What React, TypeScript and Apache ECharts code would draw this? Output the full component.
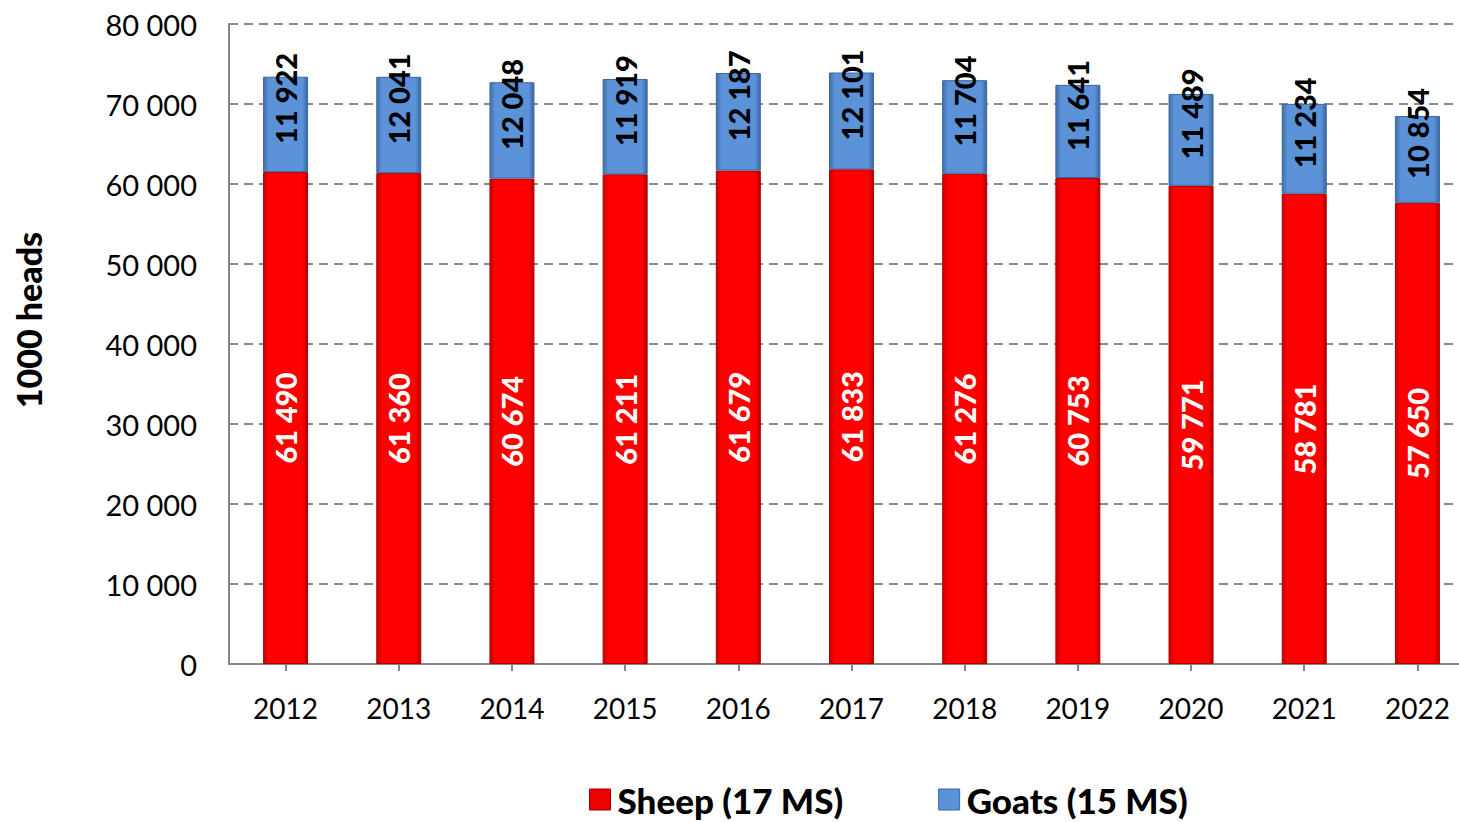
import React, { useEffect, useRef } from "react";
import * as echarts from "echarts";

const years = ["2012", "2013", "2014", "2015", "2016", "2017", "2018", "2019", "2020", "2021", "2022"];
const sheep = [61490, 61360, 60674, 61211, 61679, 61833, 61276, 60753, 59771, 58781, 57650];
const goats = [11922, 12041, 12048, 11919, 12187, 12101, 11704, 11641, 11489, 11234, 10854];
const sheepName = "Sheep (17 MS)";
const goatsName = "Goats (15 MS)";
const yTitle = "1000 heads";

const fmt = (v: number) => {
  const s = String(Math.round(v));
  return s.replace(/\B(?=(\d{3})+(?!\d))/g, " ");
};

const FONT = "Lato, 'Open Sans', sans-serif";

export default function App() {
  const ref = useRef<HTMLDivElement>(null);
  useEffect(() => {
    if (!ref.current) return;
    const chart = echarts.init(ref.current, undefined, { renderer: "svg" });
    const redGrad = new echarts.graphic.LinearGradient(0, 0, 1, 0, [
      { offset: 0, color: "#c40000" },
      { offset: 0.12, color: "#ff0000" },
      { offset: 0.88, color: "#ff0000" },
      { offset: 1, color: "#b80000" },
    ]);
    const blueGrad = new echarts.graphic.LinearGradient(0, 0, 1, 0, [
      { offset: 0, color: "#3f6fa8" },
      { offset: 0.12, color: "#5b92d8" },
      { offset: 0.88, color: "#5b92d8" },
      { offset: 1, color: "#3a67a0" },
    ]);
    chart.setOption({
      animation: false,
      textStyle: { fontFamily: FONT },
      grid: { left: 229, top: 24, width: 1245, height: 640, outerBoundsMode: "none", containLabel: false },
      graphic: [
        {
          type: "text",
          x: 28,
          y: 320,
          rotation: Math.PI / 2,
          style: {
            text: yTitle,
            fontSize: 34,
            fontWeight: 900,
            fontFamily: FONT,
            fill: "#000",
            align: "center",
            verticalAlign: "middle",
          },
        },
      ],
      legend: {
        bottom: 0,
        left: 584,
        itemGap: 95,
        itemWidth: 21,
        itemHeight: 21,
        icon: "rect",
        textStyle: { fontSize: 35, fontWeight: 900, color: "#000", fontFamily: FONT, padding: [0, 0, 0, 2] },
        data: [
          { name: sheepName, itemStyle: { color: "#ee0000", borderColor: "#a00000", borderWidth: 1 } },
          { name: goatsName, itemStyle: { color: "#5b92d8", borderColor: "#3a67a0", borderWidth: 1 } },
        ],
      },
      xAxis: {
        type: "category",
        data: years,
        axisLine: { lineStyle: { color: "#868686", width: 2 } },
        axisTick: { show: true, alignWithLabel: true, length: 7, lineStyle: { color: "#868686", width: 2 } },
        axisLabel: { fontSize: 28, color: "#000", margin: 30, fontFamily: FONT },
      },
      yAxis: {
        type: "value",
        min: 0,
        max: 80000,
        interval: 10000,
        axisLine: { show: true, lineStyle: { color: "#868686", width: 2 } },
        axisTick: { show: false },
        axisLabel: { fontSize: 29, color: "#000", margin: 32, formatter: (v: number) => fmt(v), fontFamily: FONT },
        splitLine: { lineStyle: { color: "#8a8a8a", width: 2, type: [9, 6] } },
      },
      series: [
        {
          name: sheepName,
          type: "bar",
          stack: "total",
          barWidth: 45,
          data: sheep,
          itemStyle: { color: redGrad, borderColor: "#b00000", borderWidth: 1 },
          label: {
            show: true,
            position: "inside",
            rotate: 90,
            color: "#fff",
            fontSize: 29,
            fontWeight: 900,
            fontFamily: FONT,
            formatter: (p: any) => fmt(p.value),
          },
        },
        {
          name: goatsName,
          type: "bar",
          stack: "total",
          barWidth: 45,
          data: goats,
          itemStyle: { color: blueGrad, borderColor: "#3a67a0", borderWidth: 1 },
          label: {
            show: true,
            position: "inside",
            rotate: 90,
            offset: [26, 0],
            color: "#000",
            fontSize: 29,
            fontWeight: 900,
            fontFamily: FONT,
            formatter: (p: any) => fmt(p.value),
          },
        },
      ],
    });
    return () => chart.dispose();
  }, []);
  return (
    <div
      ref={ref}
      style={{ position: "absolute", left: 0, top: 0, width: 1459, height: 822, background: "#fff" }}
    />
  );
}
